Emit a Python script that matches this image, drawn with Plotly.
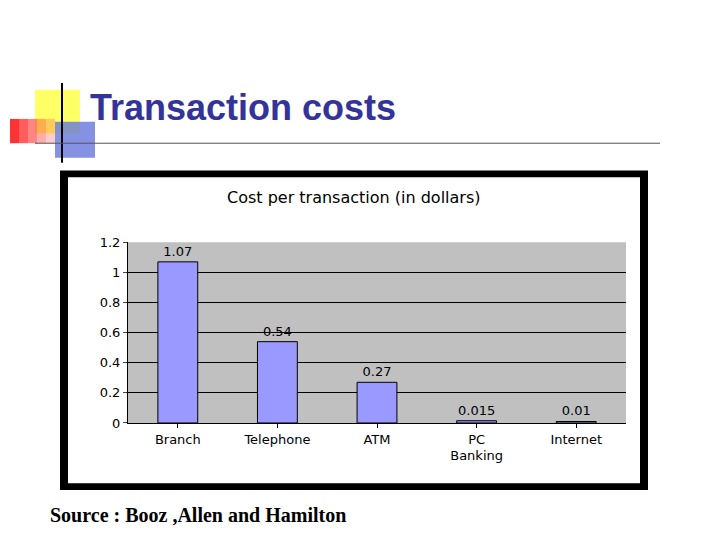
import plotly.graph_objects as go

categories = ["Branch", "Telephone", "ATM", "PC<br>Banking", "Internet"]
costs = [1.07, 0.54, 0.27, 0.015, 0.01]
labels = ["1.07", "0.54", "0.27", "0.015", "0.01"]
y_ticks = [0, 0.2, 0.4, 0.6, 0.8, 1, 1.2]
y_tick_text = ["0", "0.2", "0.4", "0.6", "0.8", "1", "1.2"]

W, H = 704, 524
OFF = 8
def px(x): return (x - OFF) / W
def py(y): return 1 - (y - OFF) / H

fig = go.Figure(go.Bar(
    x=categories, y=costs, text=labels, textposition="outside",
    textfont=dict(family="DejaVu Sans", size=13, color="black"),
    marker=dict(color="#9999ff", line=dict(color="black", width=1)),
    width=0.4, cliponaxis=False))

shapes = []
def rect(x0, y0, x1, y1, **kw):
    shapes.append(dict(type="rect", xref="paper", yref="paper",
                       x0=px(x0), x1=px(x1), y0=py(y1), y1=py(y0), layer="below", **kw))
def line(x0, y0, x1, y1, w=2, c="black"):
    shapes.append(dict(type="line", xref="paper", yref="paper",
                       x0=px(x0), x1=px(x1), y0=py(y0), y1=py(y1), line=dict(color=c, width=w)))

# decorations
rect(35, 85, 80, 130, fillcolor="#ffff66", line=dict(width=0))
for i, op in enumerate([1, 0.8, 0.6, 0.4, 0.25]):
    rect(10 + i * 9, 115, 19 + i * 9, 140, fillcolor="#ff3333", opacity=op, line=dict(width=0))
rect(55, 118, 95, 155, fillcolor="#6677dd", opacity=0.8, line=dict(width=0))
line(62, 78, 62, 160, 2)
line(35, 140, 660, 140, 1, "#555555")
# chart frame
rect(60, 168, 648, 497, fillcolor="black", line=dict(width=0))
rect(68, 175, 640, 490, fillcolor="white", line=dict(width=0))
rect(128, 242, 626, 428, fillcolor="#c0c0c0", line=dict(width=0))

fig.update_layout(
    width=W, height=H, margin=dict(l=0, r=0, t=0, b=0),
    paper_bgcolor="white", plot_bgcolor="rgba(0,0,0,0)", showlegend=False,
    shapes=shapes,
    xaxis=dict(domain=[px(128), px(626)], showline=True, linecolor="black",
               tickfont=dict(family="DejaVu Sans", size=13, color="black"),
               ticks="outside", ticklen=4, tickcolor="black"),
    yaxis=dict(domain=[py(428), py(242)], range=[0, 1.2], tickvals=y_ticks,
               ticktext=y_tick_text, showgrid=True, gridcolor="black", gridwidth=1,
               showline=True, linecolor="black", ticks="outside", ticklen=4,
               tickfont=dict(family="DejaVu Sans", size=13, color="black"), zeroline=False),
    annotations=[
        dict(text="<b>Transaction costs</b>", xref="paper", yref="paper", x=px(88), y=py(103),
             xanchor="left", yanchor="middle", showarrow=False,
             font=dict(family="Liberation Sans", size=36, color="#333399")),
        dict(text="Cost per transaction (in dollars)", xref="paper", yref="paper", x=px(354), y=py(196),
             xanchor="center", yanchor="middle", showarrow=False,
             font=dict(family="DejaVu Sans", size=16, color="black")),
        dict(text="<b>Source : Booz ,Allen and Hamilton</b>", xref="paper", yref="paper", x=px(48), y=py(523),
             xanchor="left", yanchor="middle", showarrow=False,
             font=dict(family="Liberation Serif", size=20, color="black")),
    ])
fig.write_html("out.html")
